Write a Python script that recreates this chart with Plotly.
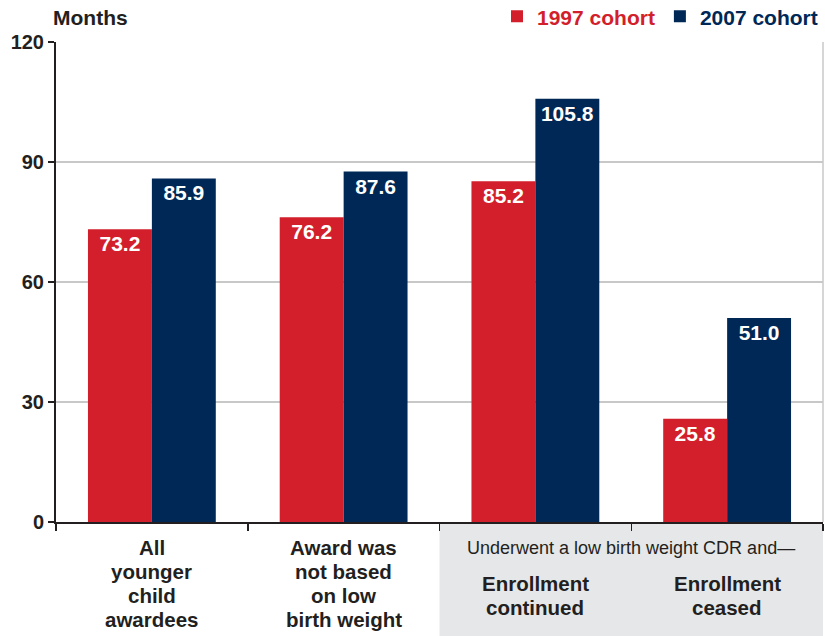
import plotly.graph_objects as go

categories = ["All<br>younger<br>child<br>awardees",
              "Award was<br>not based<br>on low<br>birth weight",
              "Enrollment<br>continued",
              "Enrollment<br>ceased"]
group_label = "Underwent a low birth weight CDR and—"
cohort_1997 = [73.2, 76.2, 85.2, 25.8]
cohort_2007 = [85.9, 87.6, 105.8, 51.0]
series_names = ["1997 cohort", "2007 cohort"]
y_ticks = [0, 30, 60, 90, 120]

RED = "#d21f2b"
NAVY = "#002856"
INK = "#231f20"
FONT = "Liberation Sans, Arial, sans-serif"

xpos = list(range(len(categories)))

fig = go.Figure()
for vals, name, col in [(cohort_1997, series_names[0], RED), (cohort_2007, series_names[1], NAVY)]:
    fig.add_trace(go.Bar(
        x=xpos, y=vals, name=f"<span style='color:{col}'>{name}</span>",
        marker=dict(color=col, line=dict(width=0)),
        text=[f"{v:.1f}" for v in vals], textposition="inside",
        insidetextanchor="end", textangle=0,
        textfont=dict(color="white", size=21, family=FONT, weight="bold"),
        hoverinfo="skip",
    ))

# category labels, one annotation per line
LINE = 24
for i, lab in enumerate(categories):
    start = -12 if i < 2 else -48
    for j, line in enumerate(lab.split("<br>")):
        fig.add_annotation(x=i, xref="x", y=0, yref="paper", yanchor="top",
                           yshift=start - j * LINE, text=line, showarrow=False,
                           font=dict(size=20.5, family=FONT, color=INK, weight="bold"))

fig.add_annotation(x=2.5, xref="x", y=0, yref="paper", yanchor="top", yshift=-14,
                   text=group_label, showarrow=False,
                   font=dict(size=18, family=FONT, color=INK))

fig.add_annotation(x=0, xref="paper", xshift=-5, xanchor="left", y=1.0, yref="paper",
                   yanchor="bottom", yshift=11, text="Months", showarrow=False,
                   font=dict(size=21, family=FONT, color=INK, weight="bold"))

# shaded group region
fig.add_shape(type="rect", xref="x", yref="paper", x0=1.5, x1=3.6, y0=-0.3, y1=0,
              fillcolor="#e6e7e8", line=dict(width=0), layer="below")
# right border
fig.add_shape(type="line", xref="paper", yref="paper", x0=1, x1=1, y0=0, y1=1,
              line=dict(color="#c8c8c8", width=1.5))

fig.update_layout(
    width=825, height=636,
    margin=dict(l=56, r=2, t=42, b=114, autoexpand=False),
    paper_bgcolor="white", plot_bgcolor="white",
    barmode="group", bargap=1/3, bargroupgap=0,
    font=dict(family=FONT, color=INK),
    showlegend=True,
    legend=dict(orientation="h", x=1.0, xanchor="right", y=1.01, yanchor="bottom",
                font=dict(size=21, family=FONT, weight="bold"),
                itemwidth=30, traceorder="normal", bgcolor="rgba(0,0,0,0)"),
    xaxis=dict(range=[-0.5, 3.5], tickvals=[-0.5, 0.5, 1.5, 2.5, 3.5], showticklabels=False,
               ticks="outside", ticklen=7, tickwidth=1.5, tickcolor=INK,
               showline=True, linecolor=INK, linewidth=1.5, showgrid=False, zeroline=False,
               fixedrange=True),
    yaxis=dict(range=[0, 120], tickvals=y_ticks, ticks="outside", ticklen=6, tickwidth=1.5,
               tickcolor=INK, showline=True, linecolor=INK, linewidth=2,
               showgrid=True, gridcolor="#c8c8c8", gridwidth=1.5, zeroline=False,
               tickfont=dict(size=20, family=FONT, color=INK, weight="bold"),
               fixedrange=True),
)

fig.write_html("out.html", config={"displayModeBar": False, "staticPlot": True},
               post_script="document.body.style.margin='0';document.body.style.overflow='hidden';")
